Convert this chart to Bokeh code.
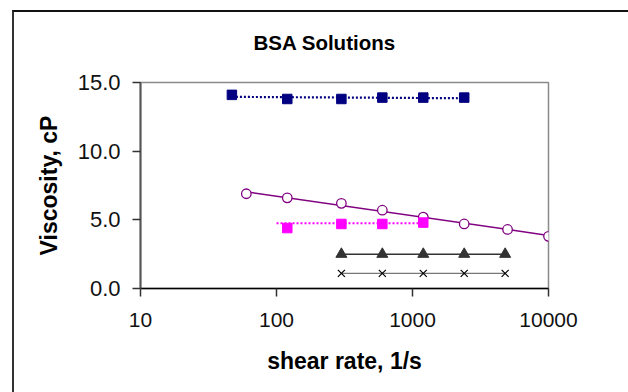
import numpy as np
from bokeh.plotting import figure
from bokeh.models import (FixedTicker, NumeralTickFormatter, Range1d, Title, InlineStyleSheet)
from bokeh.embed import file_html
from bokeh.resources import INLINE

# ---- data ----
title_text = "BSA Solutions"
x_ticks = [10, 100, 1000, 10000]
y_ticks = [0, 5, 10, 15]

blue_x = [47, 120, 300, 600, 1200, 2400]
blue_y = [14.1, 13.8, 13.8, 13.9, 13.9, 13.9]

purple_x = [60, 120, 300, 600, 1200, 2400, 5000, 10000]
purple_y = [6.9, 6.6, 6.2, 5.7, 5.2, 4.7, 4.3, 3.8]

magenta_x = [120, 300, 600, 1200]
magenta_y = [4.4, 4.7, 4.7, 4.8]
magenta_line_x = [100, 1200]
magenta_line_y = [4.75, 4.75]

tri_x = [300, 600, 1200, 2400, 4800]
tri_y = [2.5, 2.5, 2.5, 2.5, 2.5]

cross_x = [300, 600, 1200, 2400, 4800]
cross_y = [1.1, 1.1, 1.1, 1.1, 1.1]


def log_fit(xs, ys):
    lx = np.log10(np.array(xs, dtype=float))
    a, b = np.polyfit(lx, np.array(ys, dtype=float), 1)
    ex = np.array([min(xs), max(xs)], dtype=float)
    return list(ex), list(a * np.log10(ex) + b)


p = figure(width=628, height=392, x_axis_type="log",
           x_range=Range1d(10, 10000), y_range=Range1d(0, 15),
           output_backend="svg", toolbar_location=None,
           min_border_left=140, min_border_right=80,
           min_border_top=82, min_border_bottom=104)

p.title = Title(text=title_text, align="left", offset=113,
                text_font="Liberation Sans", text_font_size="20.5px",
                text_font_style="bold", text_color="#000000",
                standoff=56, vertical_align="middle")

p.grid.visible = False
p.outline_line_color = "#8a8a8a"
p.outline_line_width = 1.5
p.background_fill_color = "white"
p.border_fill_color = "white"

# outer chart border: only its left and top edges fall inside the window
p.stylesheets = [InlineStyleSheet(css="""
:host { position: relative; }
:host::after { content: ''; position: absolute; left: 12px; top: 10px; right: 0; bottom: 0;
  border-left: 2px solid #333333; border-top: 2px solid #111111; pointer-events: none; z-index: 10; }
""")]

# axes
xa = p.xaxis[0]
xa.ticker = FixedTicker(ticks=x_ticks, minor_ticks=[])
xa.formatter = NumeralTickFormatter(format="0")
xa.axis_label = "shear rate, 1/s"
ya = p.yaxis[0]
ya.ticker = FixedTicker(ticks=y_ticks, minor_ticks=[])
ya.formatter = NumeralTickFormatter(format="0.0")
ya.axis_label = "Viscosity, cP"

for ax in (xa, ya):
    ax.axis_label_text_font = "Liberation Sans"
    ax.axis_label_text_font_size = "23px"
    ax.axis_label_text_font_style = "bold"
    ax.axis_label_text_color = "#000000"
    ax.major_label_text_font = "Liberation Sans"
    ax.major_label_text_color = "#111111"
    ax.major_tick_in = 0
    ax.major_tick_out = 8
    ax.minor_tick_in = 0
    ax.minor_tick_out = 0
    ax.major_tick_line_width = 1.5

xa.major_label_text_font_size = "21px"
ya.major_label_text_font_size = "22px"

xa.axis_line_color = "#000000"
xa.axis_line_width = 1.5
xa.major_tick_line_color = "#333333"
xa.major_label_standoff = 16
xa.axis_label_standoff = 18
ya.axis_line_color = "#555555"
ya.axis_line_width = 2
ya.major_tick_line_color = "#333333"
ya.major_label_standoff = 12
ya.axis_label_standoff = 13

# series lines
bx, by = log_fit(blue_x, blue_y)
p.line(bx, by, line_color="#000080", line_width=2.2, line_dash="2 2")
px, py = log_fit(purple_x, purple_y)
p.line(px, py, line_color="#800080", line_width=1.5)
p.line(magenta_line_x, magenta_line_y, line_color="#FF00FF", line_width=2.2, line_dash="2 2")
p.line(tri_x, tri_y, line_color="#333333", line_width=1.5)
p.line(cross_x, cross_y, line_color="#777777", line_width=1.2)

# markers
p.scatter(blue_x, blue_y, marker="square", size=9.5, fill_color="#000080", line_color="#000080")
p.scatter(purple_x, purple_y, marker="circle", size=9.5, fill_color="white", line_color="#800080", line_width=1.3)
p.scatter(magenta_x, magenta_y, marker="square", size=9.5, fill_color="#FF00FF", line_color="#FF00FF")
p.scatter(tri_x, tri_y, marker="triangle", size=11, fill_color="#333333", line_color="#333333")
p.scatter(cross_x, cross_y, marker="x", size=10, line_color="#000000", line_width=1.2)

open("out.html", "w").write(file_html(p, INLINE))
